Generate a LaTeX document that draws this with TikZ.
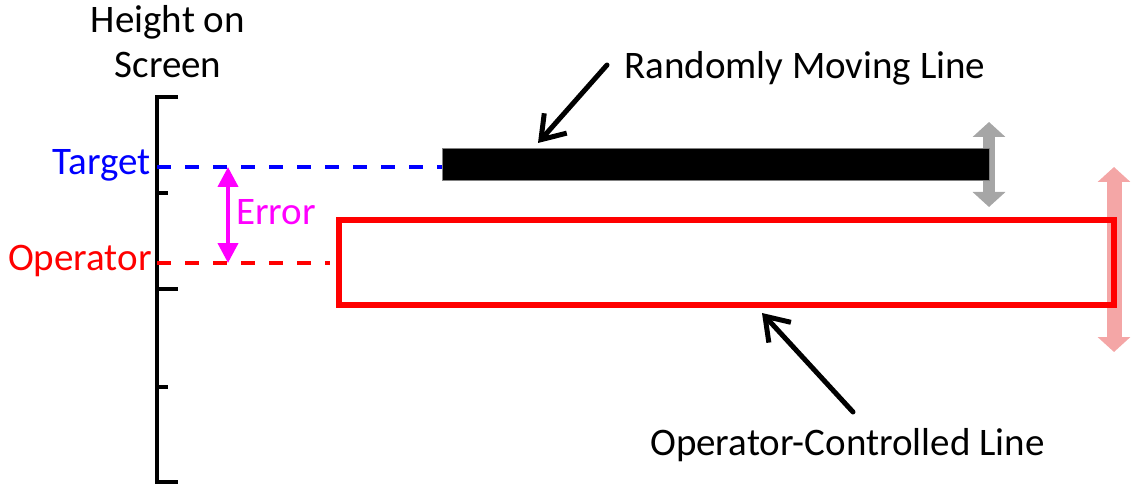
\documentclass[tikz,border=0pt]{standalone}
\usepackage{fontspec}
\setmainfont{Carlito}
\usetikzlibrary{arrows.meta}
\definecolor{tgtblue}{RGB}{0,0,255}
\definecolor{oprred}{RGB}{255,0,0}
\definecolor{errmag}{RGB}{255,0,255}
\definecolor{movgray}{RGB}{166,166,166}
\definecolor{movpink}{RGB}{244,166,166}
\begin{document}
\begin{tikzpicture}[x=1pt,y=-1pt,
  lbl/.style={font=\fontsize{39}{45}\selectfont, inner sep=0pt},
  axisline/.style={line width=4pt, line cap=butt},
  ptr/.style={line width=5pt, line cap=round, line join=round, -{Straight Barb[length=22pt,width=30pt]}},
  dsh/.style={line width=4.5pt, dash pattern=on 14pt off 14pt},
  dbl/.style={line width=#1pt, {Triangle[length=15pt,width=32pt]}-{Triangle[length=15pt,width=32pt]}},
  errarrow/.style={line width=4pt, errmag, {Triangle[length=20pt,width=20pt]}-{Triangle[length=20pt,width=20pt]}}
]
\useasboundingbox (0,0) rectangle (1139,486);

% axis
\draw[axisline] (178,97) -- (157,97) -- (157,482) -- (178,482);
\draw[axisline] (157,193) -- (168,193);
\draw[axisline] (157,289) -- (178,289);
\draw[axisline] (157,387) -- (168,387);
\node[lbl, align=center, anchor=north] (hdr) at (168,5) {Height on\\Screen};

% moving arrows behind bars
\coordinate (gtop) at (989,122);
\coordinate (gbot) at (989,207);
\draw[dbl=12, movgray] (gtop) -- (gbot);
\coordinate (ptop) at (1114,167);
\coordinate (pbot) at (1114,352);
\draw[dbl=15, movpink] (ptop) -- (pbot);

% bars
\node[draw=gray, line width=1pt, fill=black, inner sep=0pt, minimum width=547, minimum height=32] (bar) at (715.5,165) {};
\node[draw=oprred, line width=6pt, inner sep=0pt, minimum width=775, minimum height=85] (box) at (726.5,262.5) {};

% dashed reference lines
\coordinate (tgtA) at (157,167);
\coordinate (oprA) at (157,263);
\coordinate (oprB) at (330,263);
\draw[dsh, tgtblue] (tgtA) -- (bar.west |- tgtA);
\draw[dsh, oprred] (oprA) -- (oprB);

\node[lbl, text=tgtblue, anchor=base east] (tgt) at (151,175) {Target};
\node[lbl, text=oprred, anchor=base east] (opr) at (152,270) {Operator};

% error
\coordinate (e1) at (228,167);
\coordinate (e2) at (228,263);
\draw[errarrow] (e1) -- (e2);
\node[lbl, text=errmag, anchor=base west] (err) at (236,225) {Error};

% pointer labels
\node[lbl, anchor=base west] (rml) at (624,79) {Randomly Moving Line};
\coordinate (rmlTail) at (607,65);
\coordinate (rmlTip) at (538,143);
\draw[ptr] (rmlTail) -- (rmlTip);

\node[lbl, anchor=base west] (ocl) at (650,455) {Operator-Controlled Line};
\coordinate (oclTail) at (853,412);
\coordinate (oclTip) at (762,313);
\draw[ptr] (oclTail) -- (oclTip);
\end{tikzpicture}
\end{document}
